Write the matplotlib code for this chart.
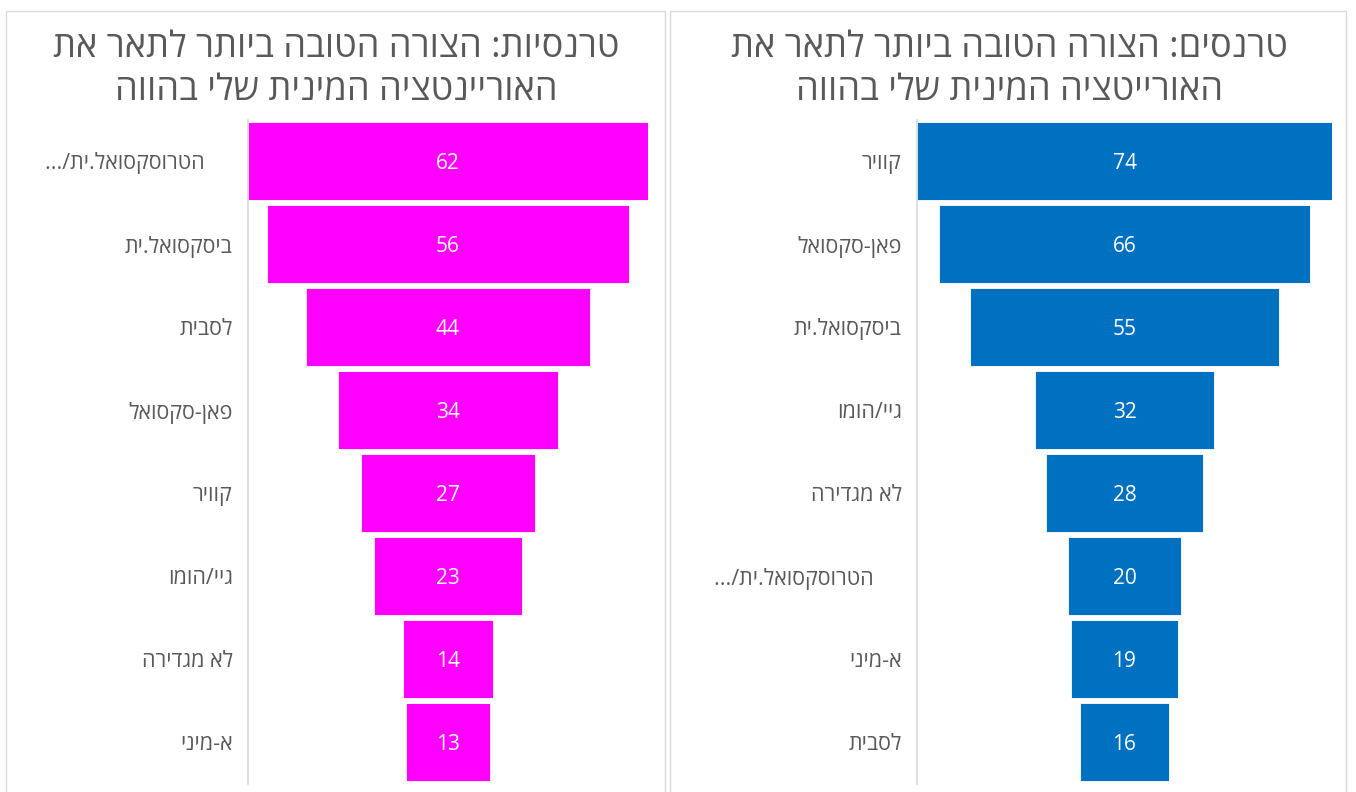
import matplotlib.pyplot as plt
from matplotlib.patches import Rectangle

plt.rcParams['font.family'] = ['Open Sans', 'DejaVu Sans']

# data (logical Hebrew order, top row first)
women_title = ["טרנסיות: הצורה הטובה ביותר לתאר את", "האוריינטציה המינית שלי בהווה"]
women_labels = ["הטרוסקסואל.ית/...", "ביסקסואל.ית", "לסבית", "פאן-סקסואל",
                "קוויר", "גיי/הומו", "לא מגדירה", "א-מיני"]
women_values = [62, 56, 44, 34, 27, 23, 14, 13]

men_title = ["טרנסים: הצורה הטובה ביותר לתאר את", "האורייטציה המינית שלי בהווה"]
men_labels = ["קוויר", "פאן-סקסואל", "ביסקסואל.ית", "גיי/הומו",
              "לא מגדירה", "הטרוסקסואל.ית/...", "א-מיני", "לסבית"]
men_values = [74, 66, 55, 32, 28, 20, 19, 16]

W, H = 1356, 792
fig = plt.figure(figsize=(W / 100, H / 100), dpi=100)


def rtl(s):
    # matplotlib has no bidi support, flip to visual order
    return s[::-1]


def fx(px):
    return px / W


def fy(py):
    return 1 - py / H


# panel borders
for x0, x1 in [(6, 665), (670, 1346)]:
    fig.add_artist(Rectangle((fx(x0), fy(800)), fx(x1 - x0), fy(11) - fy(800),
                             transform=fig.transFigure, fill=False,
                             edgecolor='#d9d9d9', lw=1))


def funnel(left_px, width_px, values, labels, title, color, center_px):
    ax = fig.add_axes([fx(left_px), fy(783.5), fx(width_px), (783.5 - 119.5) / H])
    n = len(values)
    m = max(values)
    ys = list(range(n))
    ax.barh(ys, values, left=[-v / 2 for v in values], height=0.94,
            color=color, edgecolor='white', linewidth=0.6)
    ax.set_xlim(-m / 2, m / 2)
    ax.set_ylim(n - 0.5, -0.5)
    for y, v in zip(ys, values):
        ax.text(0, y, str(v), ha='center', va='center_baseline', color='white',
                fontsize=15)
    ax.set_yticks(ys)
    tick_text = []
    for lab in labels:
        t = rtl(lab)
        if lab.startswith("הטרו"):
            t = t + "     "
        tick_text.append(t)
    ax.set_yticklabels(tick_text, fontsize=15.5, color='#595959')
    ax.tick_params(axis='y', length=0, pad=11)
    ax.set_xticks([])
    for s in ['top', 'right', 'bottom']:
        ax.spines[s].set_visible(False)
    ax.spines['left'].set_color('#d9d9d9')
    ax.spines['left'].set_linewidth(1.2)
    fig.text(fx(center_px), fy(48), rtl(title[0]), ha='center', va='center',
             fontsize=26, color='#595959')
    fig.text(fx(center_px), fy(91), rtl(title[1]), ha='center', va='center',
             fontsize=26, color='#595959')


funnel(248, 400, women_values, women_labels, women_title, '#ff00ff', 336)
funnel(917, 415, men_values, men_labels, men_title, '#0070c0', 1009)

fig.savefig('out.png', dpi=100, facecolor='white')
